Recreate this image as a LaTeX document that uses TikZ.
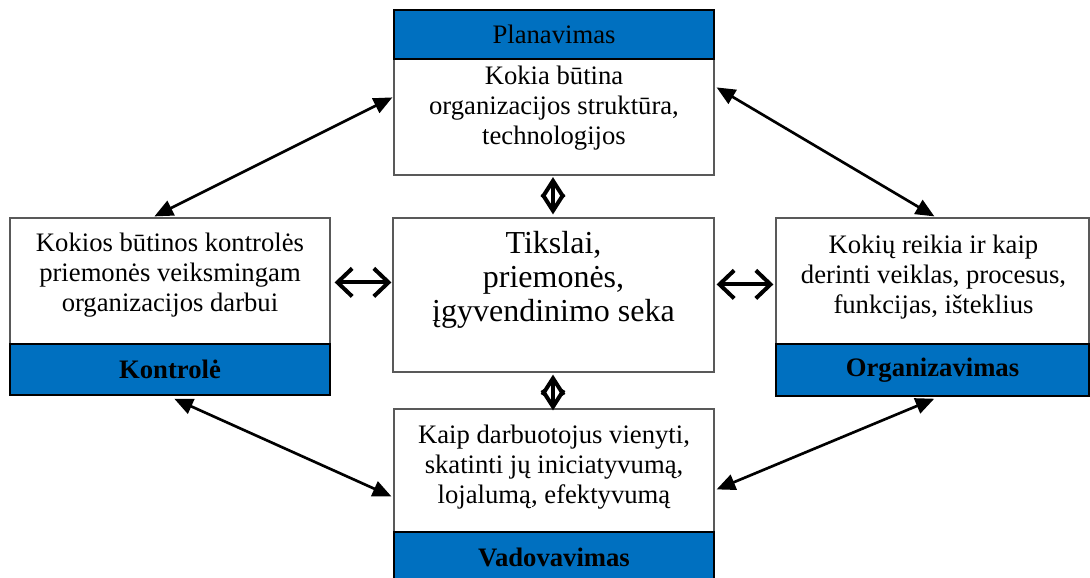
\documentclass[tikz,border=0pt]{standalone}
\usepackage{fontspec}
\setmainfont{Liberation Serif}
\usetikzlibrary{arrows.meta,calc}
\definecolor{hdrblue}{HTML}{0070C0}
\definecolor{boxgray}{HTML}{595959}
\begin{document}
\begin{tikzpicture}[x=0.75pt,y=-0.75pt,
  bodybox/.style={draw=boxgray,line width=0.9pt,fill=white,inner sep=0pt,minimum width=240pt},
  headbox/.style={draw=black,line width=1.1pt,fill=hdrblue,inner sep=0pt,minimum width=240pt,font=\fontsize{20}{22.5}\selectfont},
  boxtext/.style={inner sep=0pt,align=center,font=\fontsize{20}{22.5}\selectfont},
  diag/.style={line width=2pt,{Triangle[length=14pt,width=12pt]}-{Triangle[length=14pt,width=12pt]}},
  hlink/.style={line width=3pt,line join=miter,{Straight Barb[length=11pt,width=21pt]}-{Straight Barb[length=11pt,width=21pt]}},
  vlink/.style={line width=3pt,line join=miter,{Straight Barb[length=12.5pt,width=16pt]}-{Straight Barb[length=12.5pt,width=16pt]}}
]
\useasboundingbox (0,0) rectangle (1090,578);
\clip (0,0) rectangle (1090,578);
% top box
\node[bodybox,minimum height=87pt] (topbody) at (554,117) {};
\node[headbox,minimum height=36.75pt] (tophead) at (554,34.5) {Planavimas};
\node[boxtext] (toptext) at (554,108) {Kokia būtina\\organizacijos struktūra,\\technologijos};
% centre box
\node[bodybox,minimum width=240.75pt,minimum height=115.5pt] (center) at (553.5,295) {};
\node[inner sep=0pt,align=center,font=\fontsize{24}{25.5}\selectfont] (ctext) at (553.5,280) {Tikslai,\\priemonės,\\įgyvendinimo seka};
% left box
\node[bodybox,minimum height=94.5pt] (lbody) at (170,281) {};
\node[headbox,minimum height=38.25pt,font=\fontsize{20}{22.5}\selectfont\bfseries] (lhead) at (170,369.5) {Kontrolė};
\node[boxtext] (ltext) at (170,275) {Kokios būtinos kontrolės\\priemonės veiksmingam\\organizacijos darbui};
% right box
\node[bodybox,minimum width=234.75pt,minimum height=94.5pt] (rbody) at (932.5,281) {};
\node[headbox,minimum width=234.75pt,minimum height=39pt,font=\fontsize{20}{22.5}\selectfont\bfseries] (rhead) at (932.5,370) {Organizavimas};
\node[boxtext] (rtext) at (933.5,277) {Kokių reikia ir kaip\\derinti veiklas, procesus,\\funkcijas, išteklius};
% bottom box
\node[bodybox,minimum height=92.25pt] (bbody) at (554,470.5) {};
\node[headbox,minimum height=38.25pt,font=\fontsize{20}{22.5}\selectfont\bfseries] (bhead) at (554,557.5) {Vadovavimas};
\node[boxtext] (btext) at (554,467) {Kaip darbuotojus vienyti,\\skatinti jų iniciatyvumą,\\lojalumą, efektyvumą};
% diagonal connectors
\draw[diag] ($(lbody.north west)+(145,-1)$) -- ($(topbody.north west)+(-1,39)$);
\draw[diag] ($(topbody.north east)+(2,29)$) -- ($(rbody.north west)+(159,-1)$);
\draw[diag] ($(lhead.south west)+(165,3)$) -- ($(bbody.north west)+(-2,88)$);
\draw[diag] ($(bbody.north east)+(2,81)$) -- ($(rhead.south west)+(159,2)$);
% short connectors
\draw[hlink] ($(lbody.north east)+(4,65)$) -- ($(center.north west)+(-1,65)$);
\draw[hlink] ($(center.north east)+(2,67)$) -- ($(rbody.north west)+(-2,67)$);
\draw[vlink] ($(topbody.south)+(-1,1.5)$) -- ($(center.north)+(-0.5,-3)$);
\draw[vlink] ($(center.south)+(-0.5,2)$) -- ($(bbody.north)+(-1,2)$);
\end{tikzpicture}
\end{document}
